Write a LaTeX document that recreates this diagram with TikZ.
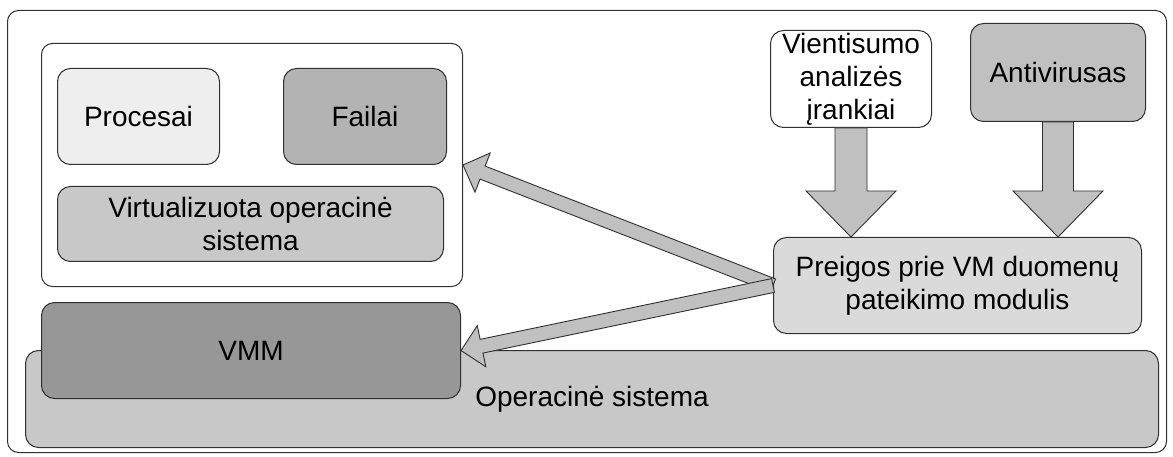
\documentclass[tikz,border=0pt]{standalone}
\usepackage{fontspec}
\setmainfont{Liberation Sans}
\usetikzlibrary{calc}

\definecolor{edge}{HTML}{303030}
\definecolor{procfill}{HTML}{EEEEEE}
\definecolor{failfill}{HTML}{B3B3B3}
\definecolor{osfill}{HTML}{C8C8C8}
\definecolor{vmmfill}{HTML}{979797}
\definecolor{avfill}{HTML}{C0C0C0}
\definecolor{modfill}{HTML}{DADADA}
\definecolor{arrowfill}{HTML}{C0C0C0}

\tikzset{
  box/.style={draw=edge, line width=1pt, rounded corners=13pt, inner sep=0pt,
    anchor=north west, align=center, text=black,
    font=\fontsize{28}{33}\selectfont},
  frame/.style={box, rounded corners=11pt, fill=white},
  arrowbody/.style={draw=edge, line width=0.9pt, fill=arrowfill, line join=miter},
}

% block arrow: #1 tail, #2 tip, #3 shaft half-width, #4 head half-width, #5 head length
\newcommand\blockarrow[5]{%
  \begin{scope}
    \coordinate (ba-h) at ($(#2)!#5!(#1)$);
    \draw[arrowbody]
      ($(#1)!#3!90:(#2)$) -- ($(ba-h)!#3!-90:(#1)$) -- ($(ba-h)!#4!-90:(#1)$)
      -- (#2) -- ($(ba-h)!#4!90:(#1)$) -- ($(ba-h)!#3!90:(#1)$)
      -- ($(#1)!#3!-90:(#2)$) -- cycle;
  \end{scope}}

\begin{document}
\begin{tikzpicture}[x=1pt, y=-1pt]
  \useasboundingbox (0,0) rectangle (1173,457);

  % whole system frame
  \node[frame, minimum width=1159pt, minimum height=442pt] (outer) at (7,10) {};

  % virtual machine
  \node[frame, minimum width=421pt, minimum height=243pt] (vm) at (41,43) {};
  \node[box, fill=procfill, minimum width=162pt, minimum height=96pt] (proc) at (57,68) {Procesai};
  \node[box, fill=failfill, minimum width=163pt, minimum height=96pt] (fail) at (283,68) {Failai};
  \node[box, fill=osfill, minimum width=386pt, minimum height=75pt] (vos) at (57,186)
    {Virtualizuota operacinė\\sistema};

  % host layers
  \node[box, fill=osfill, minimum width=1133pt, minimum height=97pt] (os) at (25,350)
    {Operacinė sistema};
  \node[box, fill=vmmfill, minimum width=419pt, minimum height=96pt] (vmm) at (41,302) {VMM};

  % analysis tools
  \node[box, fill=white, minimum width=161pt, minimum height=97pt] (vient) at (770,30)
    {Vientisumo\\analizės\\įrankiai};
  \node[box, fill=avfill, minimum width=175pt, minimum height=98pt] (av) at (970,23)
    {Antivirusas};
  \node[box, fill=modfill, minimum width=368pt, minimum height=96pt] (mod) at (773,237)
    {Preigos prie VM duomenų\\pateikimo modulis};

  % data flow
  \blockarrow{vient.south}{vient.south |- mod.north}{16pt}{45pt}{46pt}
  \blockarrow{av.south}{av.south |- mod.north}{15.5pt}{45pt}{46pt}
  \blockarrow{mod.west}{vm.east}{7pt}{21pt}{21pt}
  \blockarrow{mod.west}{vmm.east}{7pt}{21pt}{21pt}
\end{tikzpicture}
\end{document}
